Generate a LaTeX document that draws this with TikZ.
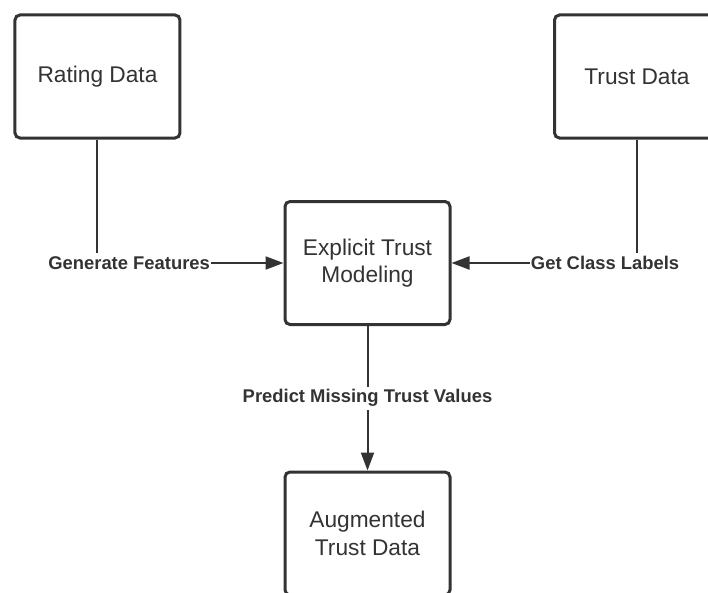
\documentclass[tikz,border=0pt]{standalone}
\usepackage{fontspec}
\setmainfont{Liberation Sans}
\usetikzlibrary{arrows.meta,positioning}
\definecolor{ink}{HTML}{333333}

\begin{document}
\begin{tikzpicture}[->,>={Triangle[length=18pt,width=13pt]},color=ink,line width=2pt,
                    node distance=186.5pt and 270pt,on grid,
                    block/.style={draw,line width=3pt,rounded corners=5pt,align=center,
                      minimum width=165pt,minimum height=123pt,
                      font=\fontsize{22.7}{27.5}\selectfont},
                    tag/.style={fill=white,inner xsep=1pt,inner ysep=3pt,
                      font=\fontsize{18.4}{21}\selectfont\bfseries}]

  \path[use as bounding box,fill=white] (-367.5pt,263pt) rectangle (340.5pt,-329pt);
  \clip (-367.5pt,263pt) rectangle (340.5pt,-329pt);

  \node[block] (etm)                                        {Explicit Trust\\Modeling};
  \node[block] (rating) [above left=of etm]                 {Rating Data};
  \node[block] (trust)  [above right=186.5pt and 269.5pt of etm] {Trust Data};
  \node[block] (aug)    [below=270.5pt of etm]              {Augmented\\Trust Data};

  \draw (rating) |- node[tag,pos=0.585] {Generate Features} (etm);
  \draw (trust)  |- node[tag,pos=0.586] {Get Class Labels}  (etm);
  \draw (etm)    -- node[tag]           {Predict Missing Trust Values} (aug);
\end{tikzpicture}
\end{document}
